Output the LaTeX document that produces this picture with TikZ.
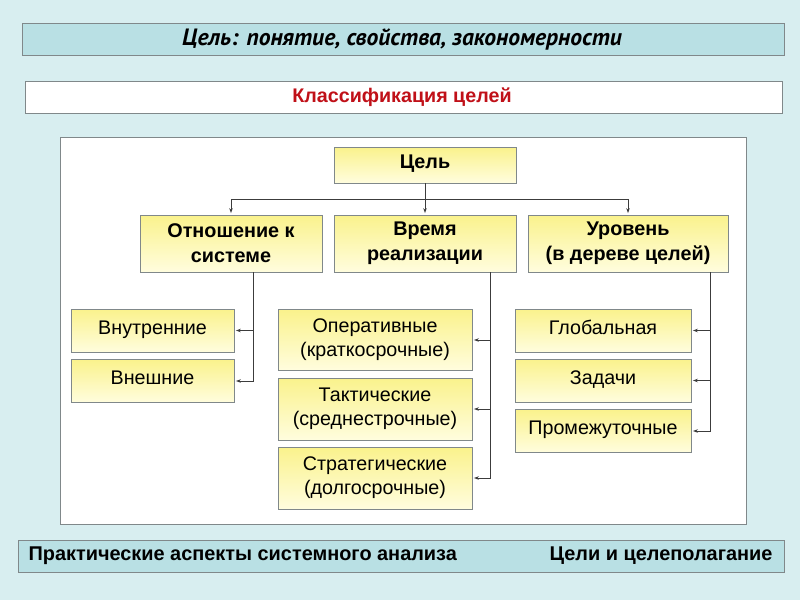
\documentclass[tikz,border=0pt]{standalone}
\usepackage{fontspec}
\setmainfont{Liberation Sans}
\newfontfamily\titlefont{PT Sans}
\usetikzlibrary{arrows.meta}
\definecolor{bgc}{RGB}{216,238,240}
\definecolor{barc}{RGB}{185,224,228}
\definecolor{edgec}{RGB}{128,136,138}
\definecolor{ytop}{RGB}{250,242,140}
\definecolor{ybot}{RGB}{255,253,222}
\definecolor{redc}{RGB}{192,16,24}
\definecolor{linec}{RGB}{60,60,60}
\tikzset{
  ybox/.style={draw=edgec, line width=0.8pt, top color=ytop, bottom color=ybot,
    align=center, inner sep=2pt, font=\fontsize{19.7}{24}\selectfont},
  bbox/.style={ybox, font=\bfseries\fontsize{19.8}{25}\selectfont},
  oneline/.style={text height=14pt, text depth=7pt},
  conn/.style={draw=linec, line width=0.9pt},
  arr/.style={conn, -{Stealth[length=5pt,width=3.5pt]}, shorten >=1.5pt}
}
\begin{document}
\begin{tikzpicture}[x=1pt,y=-1pt]
\fill[bgc] (0,0) rectangle (800,600);
\useasboundingbox (0,0) rectangle (800,600);
% title bar
\draw[edgec, line width=0.8pt, fill=barc] (22,23) rectangle (784,55);
\node[font=\titlefont\bfseries\itshape\fontsize{23.6}{26}\selectfont] (title) at (402,39.5) {Цель: понятие, свойства, закономерности};
% subtitle bar
\draw[edgec, line width=0.8pt, fill=white] (25,81) rectangle (782,113);
\node[text=redc, font=\bfseries\fontsize{19.7}{22}\selectfont] (sub) at (402,97.5) {Классификация целей};
% panel
\draw[edgec, line width=0.8pt, fill=white] (60,137) rectangle (746,524);
% footer
\draw[edgec, line width=0.8pt, fill=barc] (18,540) rectangle (784,572);
\node[anchor=west, font=\bfseries\fontsize{19.9}{22}\selectfont] (fl) at (25,556) {Практические аспекты системного анализа};
\node[anchor=east, font=\bfseries\fontsize{19.9}{22}\selectfont] (fr) at (776,556) {Цели и целеполагание};
% nodes
\node[bbox, oneline, minimum width=182pt, minimum height=36pt] (goal) at (425,165) {Цель};
\node[bbox, minimum width=182pt, minimum height=57pt] (rel) at (231,243.5) {Отношение к\\системе};
\node[bbox, minimum width=182pt, minimum height=57pt] (time) at (425,243.5) {Время\\реализации};
\node[bbox, minimum width=200pt, minimum height=57pt] (lvl) at (628,243.5) {Уровень\\(в дереве целей)};
\node[ybox, oneline, minimum width=163pt, minimum height=43pt] (inner) at (152.5,330.5) {Внутренние};
\node[ybox, oneline, minimum width=163pt, minimum height=43pt] (outer) at (152.5,381) {Внешние};
\node[ybox, minimum width=194pt, minimum height=61pt] (oper) at (375,340) {Оперативные\\(краткосрочные)};
\node[ybox, minimum width=194pt, minimum height=62pt] (tact) at (375,409) {Тактические\\(среднестрочные)};
\node[ybox, minimum width=194pt, minimum height=62pt] (strat) at (375,478) {Стратегические\\(долгосрочные)};
\node[ybox, oneline, minimum width=176pt, minimum height=43pt] (glob) at (603,330.5) {Глобальная};
\node[ybox, oneline, minimum width=176pt, minimum height=43pt] (task) at (603,380.5) {Задачи};
\node[ybox, oneline, minimum width=176pt, minimum height=43pt] (inter) at (603,431) {Промежуточные};
% connectors level 1
\coordinate (bus) at (425,199);
\draw[conn] (goal.south) -- (bus);
\draw[arr] (bus) -- (time.north);
\draw[arr] (bus) -| (rel.north);
\draw[arr] (bus) -| (lvl.north);
% relation branch
\coordinate (r0) at (253,272);
\draw[arr] (r0) |- (inner.east);
\draw[arr] (r0) |- (outer.east);
% time branch
\coordinate (t0) at (490,272);
\draw[arr] (t0) |- (oper.east);
\draw[arr] (t0) |- (tact.east);
\draw[arr] (t0) |- (strat.east);
% level branch
\coordinate (l0) at (710,272);
\draw[arr] (l0) |- (glob.east);
\draw[arr] (l0) |- (task.east);
\draw[arr] (l0) |- (inter.east);
\end{tikzpicture}
\end{document}
